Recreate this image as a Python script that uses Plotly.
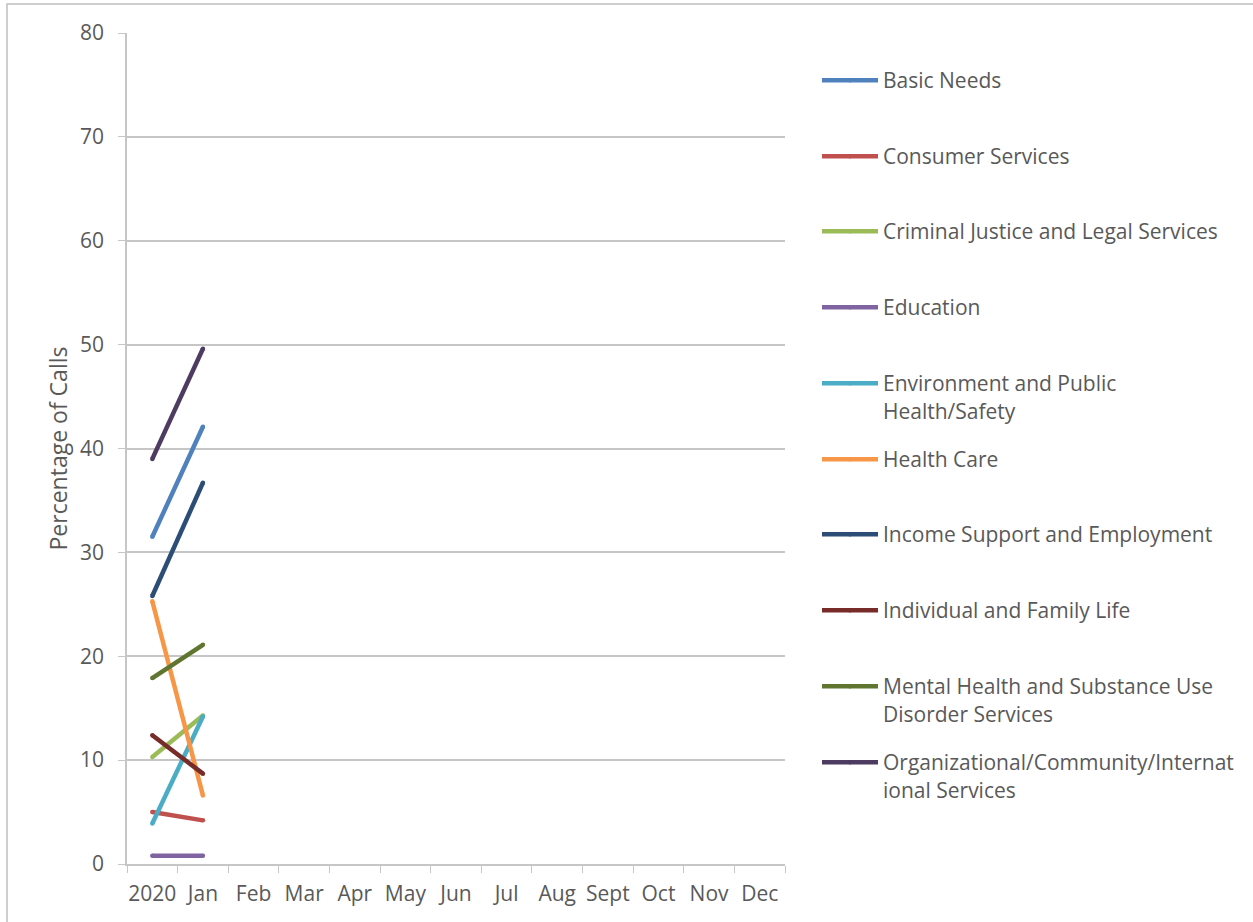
import plotly.graph_objects as go

# Month categories along the x axis
categories = ["2020", "Jan", "Feb", "Mar", "Apr", "May", "Jun",
              "Jul", "Aug", "Sept", "Oct", "Nov", "Dec"]

# Percentage of calls per need category (only 2020 and Jan reported)
basic_needs = [31.5, 42.1]
consumer_services = [5.0, 4.2]
criminal_justice = [10.3, 14.3]
education = [0.8, 0.8]
environment_safety = [3.9, 14.2]
health_care = [25.3, 6.6]
income_support = [25.8, 36.7]
individual_family = [12.4, 8.7]
mental_health = [17.9, 21.1]
organizational = [39.0, 49.6]

series = [
    ("Basic Needs", basic_needs, "#4F81BD"),
    ("Consumer Services", consumer_services, "#C0504D"),
    ("Criminal Justice and Legal Services", criminal_justice, "#9BBB59"),
    ("Education", education, "#8064A2"),
    ("Environment and Public<br>Health/Safety", environment_safety, "#4BACC6"),
    ("Health Care", health_care, "#F79646"),
    ("Income Support and Employment", income_support, "#2C4D75"),
    ("Individual and Family Life", individual_family, "#772C2A"),
    ("Mental Health and Substance Use<br>Disorder Services", mental_health, "#5F7530"),
    ("Organizational/Community/Internat<br>ional Services", organizational, "#4D3B62"),
]

FONT = "Open Sans"
FS = 21
TEXT = "#595959"
GRID = "#C6C6C6"
LW = 4.5

W, H = 1253, 922
L, R, T, B = 127, 785, 33, 864
pw, ph = R - L, B - T

fig = go.Figure()
legend_rows = [80, 156, 231, 307, 383, 459, 534, 610, 686, 762]

layout_legends = {}
for i, (name, vals, color) in enumerate(series):
    key = "legend" if i == 0 else f"legend{i + 1}"
    fig.add_trace(go.Scatter(
        x=categories[:len(vals)], y=vals, name=name, mode="lines+markers",
        line=dict(color=color, width=LW),
        marker=dict(color=color, size=LW, line=dict(width=0)),
        legend=key,
    ))
    ytop = legend_rows[i] - 20
    layout_legends[key] = dict(
        x=(817 - L) / pw, xanchor="left",
        y=(B - ytop) / ph, yanchor="top",
        valign="top", itemwidth=56,
        bgcolor="rgba(0,0,0,0)",
        font=dict(family=FONT, size=FS, color=TEXT),
        tracegroupgap=0,
    )

fig.update_layout(
    width=W, height=H,
    margin=dict(l=L, r=W - R, t=T, b=H - B),
    paper_bgcolor="white", plot_bgcolor="white",
    showlegend=True,
    font=dict(family=FONT, size=FS, color=TEXT),
    xaxis=dict(
        type="category", categoryorder="array", categoryarray=categories,
        range=[-0.5, len(categories) - 0.5],
        tickmode="array", tickvals=categories, ticktext=categories,
        tickson="boundaries", ticks="outside", ticklen=7, tickcolor=GRID,
        tickangle=0, ticklabelstandoff=10,
        showgrid=False, showline=True, linecolor=GRID, linewidth=1.5,
        tickfont=dict(family=FONT, size=FS, color=TEXT),
        fixedrange=True,
    ),
    yaxis=dict(
        range=[0, 80], dtick=10, tick0=0,
        ticks="outside", ticklen=7, tickcolor=GRID,
        showgrid=True, gridcolor=GRID, gridwidth=1.5,
        showline=True, linecolor=GRID, linewidth=1.5,
        zeroline=False,
        tickfont=dict(family=FONT, size=FS, color=TEXT),
        ticklabelstandoff=10,
        title=dict(text="Percentage of Calls", standoff=6,
                   font=dict(family=FONT, size=23, color=TEXT)),
        fixedrange=True,
    ),
    shapes=[dict(type="rect", xref="paper", yref="paper",
                 x0=(7 - L) / pw, x1=(W + 20 - L) / pw,
                 y0=(B - (H + 20)) / ph, y1=(B - 4) / ph,
                 line=dict(color="#BFBFBF", width=1.5), layer="below")],
    **layout_legends,
)

fig.write_html("out.html")
